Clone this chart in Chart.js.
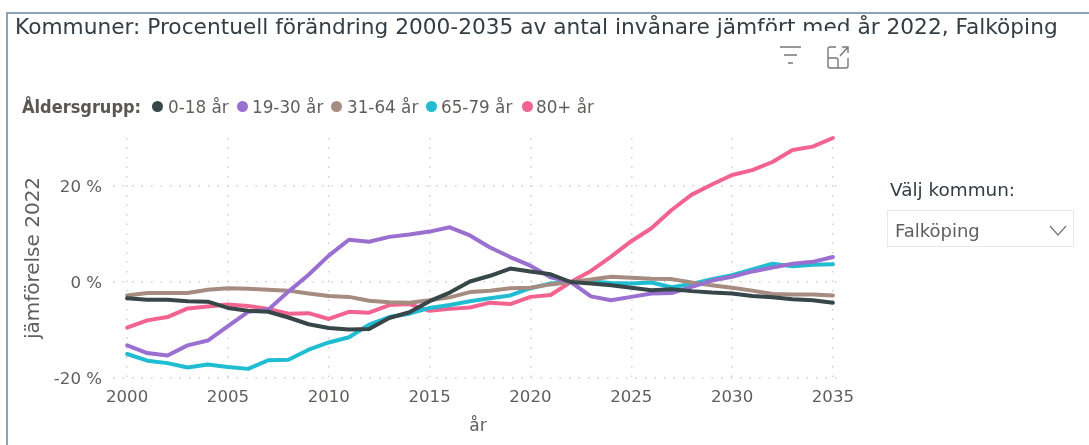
<!DOCTYPE html>
<html><head><meta charset="utf-8">
<script src="https://cdn.jsdelivr.net/npm/chart.js@4"></script>
<style>
html,body{margin:0;padding:0;background:#fff;width:1089px;height:445px;overflow:hidden;font-family:"DejaVu Sans",sans-serif}
#wrap{position:relative;width:1089px;height:445px}
#chart{position:absolute;left:0;top:0}
#frame{position:absolute;left:6px;top:12px;width:1090px;height:440px;border:2px solid #8ba3b5;box-sizing:border-box}
.t{position:absolute;white-space:nowrap}
#title{left:15px;top:14px;font-size:21.7px;color:#333d44}
#mask{position:absolute;left:759px;top:31px;width:93px;height:38px;background:#fff}
#lg{left:22px;top:96px;height:22px;font-size:16.8px;color:#605e5c}
#lg b,#lg i,#lg span{position:absolute;top:0;line-height:22px}
#lg b{left:0;font-family:"DejaVu Sans Condensed","DejaVu Sans";font-weight:bold;font-size:18px;color:#5a5753}
#lg i{top:5px;width:11px;height:11px;border-radius:50%}
#vk{left:890px;top:179px;font-size:18.4px;color:#333d44}
#box{position:absolute;left:887px;top:210px;width:187px;height:37px;border:1px solid #eaeaea;box-sizing:border-box}
#fv{left:895px;top:220px;font-size:18px;color:#605e5c}
svg{position:absolute}
</style></head><body>
<div id="wrap">
<canvas id="chart" width="1089" height="445"></canvas>
<div id="frame"></div>
<div class="t" id="title">Kommuner: Procentuell förändring 2000-2035 av antal invånare jämfört med år 2022, Falköping</div>
<div id="mask"></div>
<svg style="left:778px;top:44px" width="26" height="24" fill="none" stroke="#777" stroke-width="1.4"><path d="M2 3H23M6 11H19M10 19H15"/></svg>
<svg style="left:826px;top:44px" width="26" height="28" fill="none" stroke="#777" stroke-width="1.4"><path d="M10 3H4Q2 3 2 5V22Q2 24 4 24H20Q22 24 22 22V14M2 12V22M2 14H10Q12 14 12 16V24M14 12L22 3M16 3H22V9"/></svg>
<div class="t" id="lg"></div>
<div class="t" id="vk">Välj kommun:</div>
<div id="box"></div>
<div class="t" id="fv">Falköping</div>
<svg style="left:1048px;top:224px" width="22" height="14" fill="none" stroke="#777" stroke-width="1.2"><path d="M2 2L10 11L18 2"/></svg>
</div>
<script>
const years=[2000,2001,2002,2003,2004,2005,2006,2007,2008,2009,2010,2011,2012,2013,2014,2015,2016,2017,2018,2019,2020,2021,2022,2023,2024,2025,2026,2027,2028,2029,2030,2031,2032,2033,2034,2035];
const xTicks=[2000,2005,2010,2015,2020,2025,2030,2035];
const yTicks=[-20,0,20];
const groups=["0-18 år","19-30 år","31-64 år","65-79 år","80+ år"];
const colors=["#374649","#9a6fd0","#a68b80","#1fbcd2","#f2648f"];
const age0to18=[-3.4,-3.7,-3.7,-4,-4.1,-5.4,-6,-6.2,-7.4,-8.8,-9.6,-9.9,-9.8,-7.5,-6.3,-4,-2.2,0.1,1.3,2.8,2.2,1.6,0,-0.3,-0.7,-1.2,-1.7,-1.5,-1.9,-2.2,-2.4,-2.9,-3.2,-3.6,-3.8,-4.3];
const age19to30=[-13.2,-14.8,-15.3,-13.2,-12.2,-9.2,-6.2,-5.8,-2,1.5,5.5,8.8,8.4,9.4,9.9,10.5,11.4,9.7,7.2,5.2,3.4,1,0,-3,-3.8,-3.1,-2.4,-2.3,-1,0.3,1.1,2.2,3,3.8,4.2,5.2];
const age31to64=[-2.8,-2.3,-2.3,-2.3,-1.6,-1.3,-1.4,-1.6,-1.8,-2.4,-2.9,-3.1,-3.9,-4.2,-4.3,-3.8,-3.2,-2.1,-1.8,-1.3,-1.2,-0.5,0,0.5,1.1,0.9,0.7,0.6,-0.1,-0.7,-1.2,-1.8,-2.5,-2.6,-2.6,-2.8];
const age65to79=[-15,-16.4,-16.9,-17.8,-17.2,-17.7,-18.1,-16.3,-16.2,-14.1,-12.6,-11.5,-8.9,-7.3,-6.6,-5.4,-4.8,-4,-3.4,-2.8,-1.3,-0.3,0,0.1,-0.2,-0.3,-0.1,-1.1,-0.4,0.6,1.4,2.6,3.8,3.3,3.6,3.7];
const age80plus=[-9.5,-8,-7.3,-5.5,-5.1,-4.7,-5,-5.6,-6.6,-6.5,-7.7,-6.2,-6.4,-4.8,-4.6,-6,-5.6,-5.3,-4.3,-4.6,-3.1,-2.7,0,2.3,5.3,8.5,11.2,15,18.2,20.3,22.3,23.3,25,27.5,28.2,30];
const series=[age0to18,age19to30,age31to64,age65to79,age80plus];

const dotX=[130,215,309,404,500],labelX=[146,230,325,419,514];
document.getElementById('lg').innerHTML='<b>Åldersgrupp:</b>'+groups.map((g,i)=>`<i style="left:${dotX[i]}px;background:${colors[i]}"></i><span style="left:${labelX[i]}px">${g}</span>`).join('');

const plotLeft=113,plotRight=843,plotTop=138,plotBottom=378,padLeft=22;
new Chart(document.getElementById('chart'),{
 type:'line',
 data:{datasets:series.map((s,i)=>({label:groups[i],data:s.map((v,j)=>({x:years[j],y:v})),borderColor:colors[i],backgroundColor:colors[i],borderWidth:4,pointRadius:0,tension:0,clip:false,borderJoinStyle:'round',borderCapStyle:'round'}))},
 options:{responsive:false,animation:false,
  layout:{padding:{left:padLeft,right:1089-plotRight,top:plotTop,bottom:8}},
  plugins:{legend:{display:false},tooltip:{enabled:false}},
  scales:{
   x:{type:'linear',position:'bottom',min:1999.3,max:2035.5,
      afterBuildTicks(a){a.ticks=xTicks.map(v=>({value:v}));},
      afterFit(a){a.height=445-8-plotBottom;},
      grid:{color:'#d0d0d0',lineWidth:1.5,drawTicks:false},
      border:{display:false,dash:[1.5,8]},
      ticks:{autoSkip:false,maxRotation:0,padding:10,color:'#605e5c',font:{family:'"DejaVu Sans"',size:16.6},callback:v=>String(v)},
      title:{display:true,text:'år',color:'#605e5c',font:{family:'"DejaVu Sans"',size:17},padding:{top:4,bottom:0}}},
   y:{min:-20,max:30,
      afterBuildTicks(a){a.ticks=yTicks.map(v=>({value:v}));},
      afterFit(a){a.width=plotLeft-padLeft;},
      grid:{color:'#d0d0d0',lineWidth:1.5,drawTicks:false},
      border:{display:false,dash:[1.5,8]},
      ticks:{padding:11,color:'#605e5c',font:{family:'"DejaVu Sans"',size:16.6,lineHeight:'4px'},callback:v=>['',v+' %']},
      title:{display:true,text:'jämförelse 2022',color:'#605e5c',font:{family:'"DejaVu Sans"',size:20},padding:{top:0,bottom:0}}}
  }
 }
});
</script>
</body></html>
